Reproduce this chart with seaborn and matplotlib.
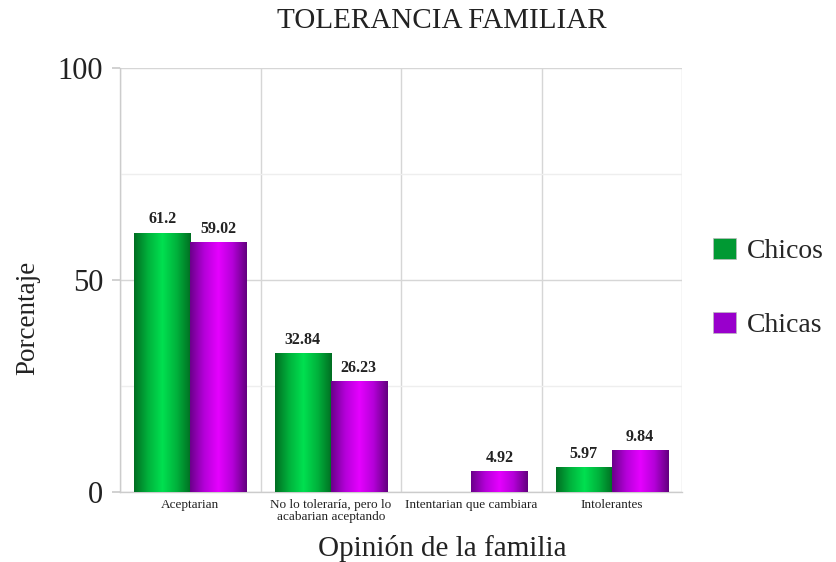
import numpy as np
import pandas as pd
import matplotlib
matplotlib.use("Agg")
import matplotlib.pyplot as plt
import seaborn as sns
from matplotlib.colors import LinearSegmentedColormap
from matplotlib.patches import Patch

categories = ["Aceptarian", "No lo toleraría, pero lo\nacabarian aceptando",
              "Intentarian que cambiara", "Intolerantes"]
chicos = [61.2, 32.84, 0.0, 5.97]
chicas = [59.02, 26.23, 4.92, 9.84]
series = ["Chicos", "Chicas"]
yticks = [0, 50, 100]

df = pd.DataFrame({
    "cat": categories * 2,
    "val": chicos + chicas,
    "serie": [series[0]] * 4 + [series[1]] * 4,
})

sns.set_theme(style="white")
plt.rcParams["font.family"] = ["Liberation Serif", "DejaVu Serif"]

fig = plt.figure(figsize=(8.36, 5.62), dpi=100)
ax = fig.add_axes([120/836, 1-492/562, (682-120)/836, (492-68)/562])

base = {"Chicos": "#009933", "Chicas": "#9900CC"}
sns.barplot(data=df, x="cat", y="val", hue="serie", order=categories,
            hue_order=series, palette=base, width=0.8, ax=ax,
            legend=False, saturation=1)

grads = {
    "Chicos": LinearSegmentedColormap.from_list("g", ["#006E22", "#00B23C", "#00E050", "#00B23C", "#006E22"]),
    "Chicas": LinearSegmentedColormap.from_list("p", ["#6A008A", "#B400D8", "#E600FF", "#B400D8", "#62007E"]),
}
grad = np.linspace(0, 1, 256).reshape(1, -1)

ax.set_ylim(0, 100)
ax.set_xlim(-0.5, 3.5)

vals = {"Chicos": chicos, "Chicas": chicas}
for container, s in zip(ax.containers, series):
    for patch, v in zip(container.patches, vals[s]):
        if v <= 0:
            patch.set_visible(False)
            continue
        x0, y0 = patch.get_x(), patch.get_y()
        w, h = patch.get_width(), patch.get_height()
        patch.set_facecolor("none")
        patch.set_edgecolor("none")
        im = ax.imshow(grad, cmap=grads[s], aspect="auto",
                       extent=[x0, x0 + w, y0, y0 + h], zorder=3)
        im.set_clip_path(patch)
        ax.text(x0 + w/2, v + 1.2, f"{v:g}", ha="center", va="bottom",
                fontsize=11.5, fontweight="bold", color="#222222", zorder=4)

ax.set_ylim(0, 100)
ax.set_xlim(-0.5, 3.5)

ax.set_yticks(yticks)
ax.set_yticks([25, 75], minor=True)
ax.set_yticklabels([str(t) for t in yticks], fontsize=22, color="#222222")
ax.set_xticks(range(4))
ax.set_xticklabels(categories, fontsize=9.5, color="#222222", linespacing=1.05)
ax.set_xticks([-0.5, 0.5, 1.5, 2.5, 3.5], minor=True)
ax.tick_params(axis="x", which="major", length=0, pad=5)
ax.tick_params(axis="x", which="minor", length=5, color="#cccccc", width=1)
ax.tick_params(axis="y", which="major", left=True, length=6, color="#cccccc", pad=6)
ax.tick_params(axis="y", which="minor", length=0)

ax.grid(True, axis="y", which="major", color="#d6d6d6", linewidth=1)
ax.grid(True, axis="y", which="minor", color="#eeeeee", linewidth=1)
ax.grid(True, axis="x", which="minor", color="#d6d6d6", linewidth=1)
ax.grid(False, axis="x", which="major")
ax.set_axisbelow(True)
for side in ["top", "right"]:
    ax.spines[side].set_visible(False)
for side in ["left", "bottom"]:
    ax.spines[side].set_color("#cccccc")
    ax.spines[side].set_linewidth(1)
ax.set_xlabel("")
ax.set_ylabel("")

fig.text(442/836, 1-21/562, "TOLERANCIA FAMILIAR", ha="center", va="center",
         fontsize=21, color="#222222")
fig.text(442/836, 1-548/562, "Opinión de la familia", ha="center", va="center",
         fontsize=21, color="#222222")
fig.text(28/836, 1-318/562, "Porcentaje", ha="center", va="center",
         rotation=90, fontsize=19.5, color="#222222")

handles = [Patch(facecolor=base[s], edgecolor="#bbbbbb", linewidth=0.5) for s in series]
fig.legend(handles, series, loc="center left", bbox_to_anchor=(694/836, 1-288/562),
           frameon=False, fontsize=20, handlelength=0.8, handleheight=0.8,
           labelspacing=1.7, handletextpad=0.4, borderpad=0.2)

fig.savefig("out.png", dpi=100)
